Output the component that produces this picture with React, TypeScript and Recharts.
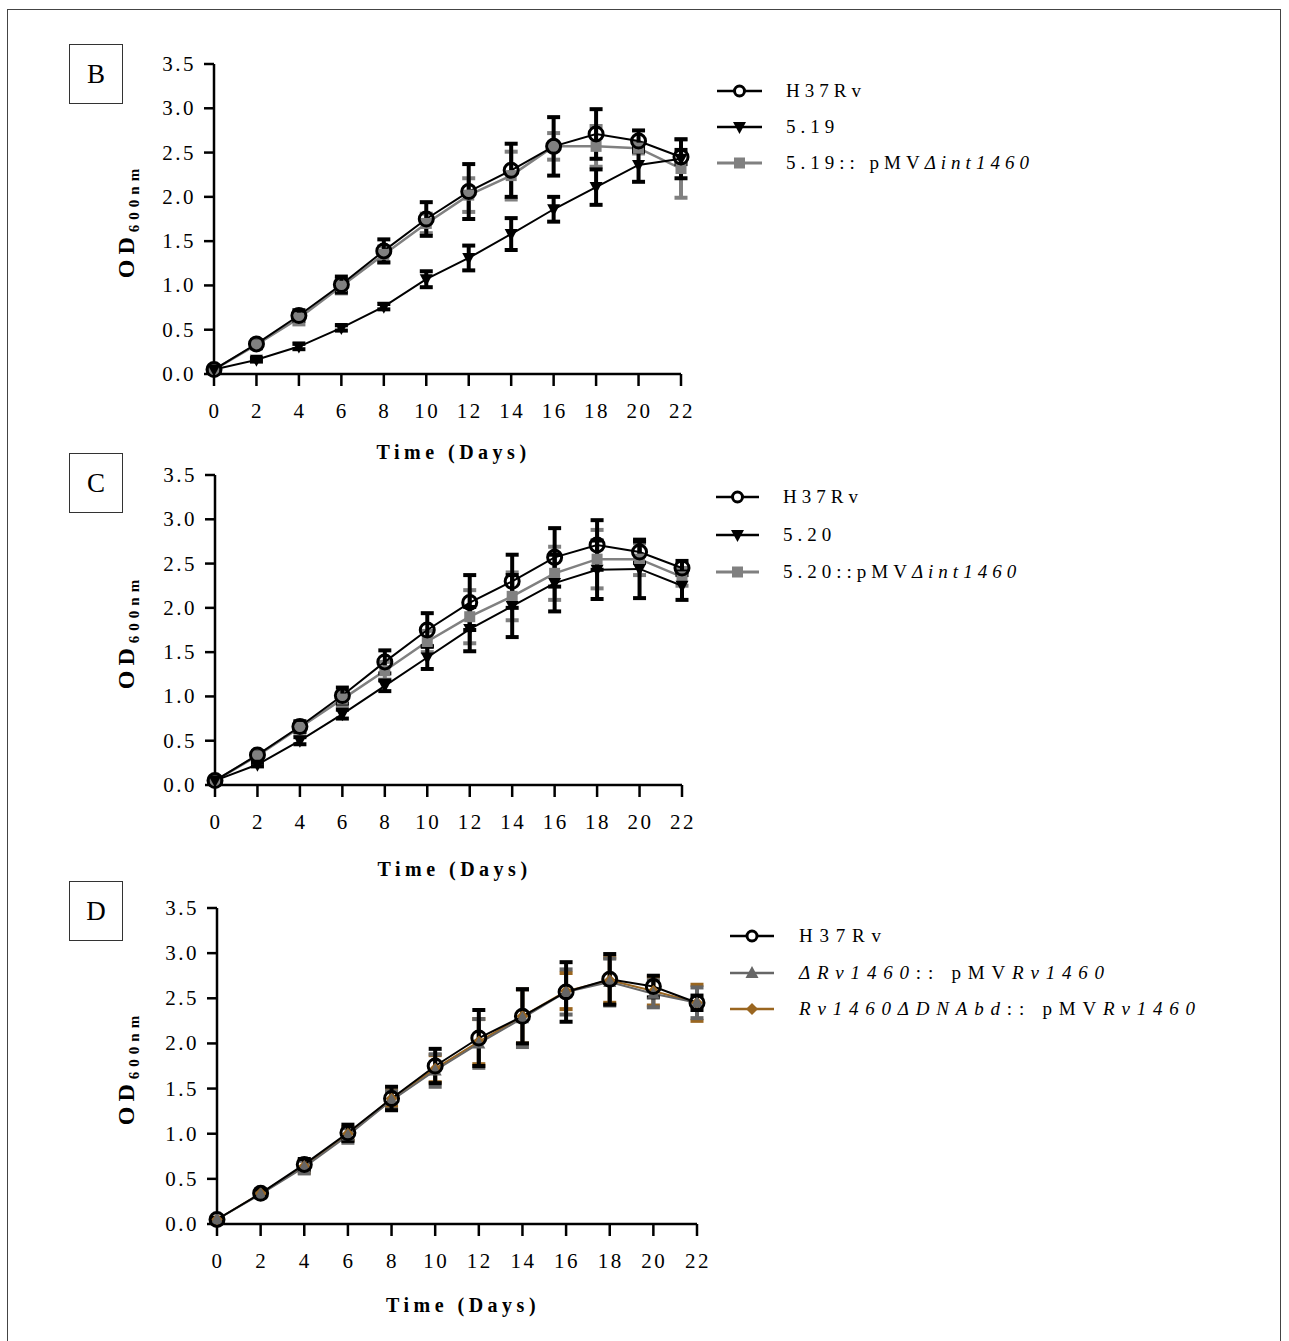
import React from "react";
import { LineChart, Line, XAxis, YAxis, ErrorBar } from "recharts";

const days = [0, 2, 4, 6, 8, 10, 12, 14, 16, 18, 20, 22];
const yTicks = [0, 0.5, 1, 1.5, 2, 2.5, 3, 3.5];

// H37Rv is the same reference strain in every panel
const h37 = [0.05, 0.34, 0.66, 1.01, 1.39, 1.75, 2.06, 2.3, 2.57, 2.71, 2.63, 2.45];
const h37Err = [0.02, 0.04, 0.06, 0.09, 0.13, 0.19, 0.31, 0.3, 0.33, 0.28, 0.12, 0.08];

// panel B
const s519 = [0.05, 0.16, 0.31, 0.52, 0.76, 1.07, 1.31, 1.58, 1.86, 2.11, 2.36, 2.43];
const s519Err = [0.01, 0.02, 0.03, 0.03, 0.03, 0.09, 0.14, 0.18, 0.14, 0.2, 0.19, 0.22];
const c519 = [0.05, 0.33, 0.63, 0.99, 1.35, 1.7, 2.02, 2.24, 2.57, 2.57, 2.55, 2.32];
const c519Err = [0.01, 0.04, 0.07, 0.08, 0.09, 0.11, 0.19, 0.27, 0.15, 0.23, 0.06, 0.33];

// panel C
const s520 = [0.05, 0.23, 0.5, 0.8, 1.12, 1.44, 1.76, 2.02, 2.28, 2.43, 2.44, 2.25];
const s520Err = [0.01, 0.02, 0.04, 0.05, 0.06, 0.13, 0.25, 0.35, 0.32, 0.33, 0.33, 0.16];
const c520 = [0.05, 0.33, 0.65, 0.97, 1.29, 1.62, 1.9, 2.13, 2.39, 2.55, 2.55, 2.35];
const c520Err = [0.01, 0.04, 0.06, 0.08, 0.1, 0.12, 0.3, 0.27, 0.3, 0.33, 0.18, 0.1];

// panel D
const dRv = [0.05, 0.33, 0.63, 0.98, 1.37, 1.7, 2.0, 2.28, 2.57, 2.68, 2.55, 2.45];
const dRvErr = [0.01, 0.03, 0.07, 0.08, 0.1, 0.18, 0.27, 0.32, 0.25, 0.26, 0.15, 0.17];
const dna = [0.05, 0.34, 0.64, 1.0, 1.39, 1.72, 2.02, 2.3, 2.58, 2.7, 2.58, 2.45];
const dnaErr = [0.01, 0.03, 0.07, 0.07, 0.09, 0.15, 0.25, 0.3, 0.2, 0.25, 0.16, 0.2];

const serif = '"Liberation Serif", "Times New Roman", serif';
const GRAY = "#808080";
const DGRAY = "#666666";
const BROWN = "#9a6620";

type Shape = "circle" | "down" | "square" | "up" | "diamond";
type Series = {
  key: string;
  name: React.ReactNode;
  values: number[];
  errors: number[];
  color: string;
  lineWidth: number;
  shape: Shape;
};

function Marker({ cx, cy, shape, color }: { cx: number; cy: number; shape: Shape; color: string }) {
  if (shape === "circle")
    return <circle cx={cx} cy={cy} r={7} fill="none" stroke={color} strokeWidth={3} />;
  if (shape === "down")
    return <path d={`M${cx - 6.5},${cy - 5} L${cx + 6.5},${cy - 5} L${cx},${cy + 7} Z`} fill={color} />;
  if (shape === "up")
    return <path d={`M${cx - 6.5},${cy + 5} L${cx + 6.5},${cy + 5} L${cx},${cy - 7} Z`} fill={color} />;
  if (shape === "diamond")
    return <path d={`M${cx},${cy - 6} L${cx + 6},${cy} L${cx},${cy + 6} L${cx - 6},${cy} Z`} fill={color} />;
  return <rect x={cx - 5.5} y={cy - 5.5} width={11} height={11} fill={color} />;
}

const YTick = (props: any) => {
  const { x, y, payload } = props;
  return (
    <text x={x} y={y} textAnchor="end" dominantBaseline="central" fontFamily={serif} fontSize={21} letterSpacing={2.5} fill="#000">
      {Number(payload.value).toFixed(1)}
    </text>
  );
};

const XTick = (props: any) => {
  const { x, y, payload } = props;
  return (
    <text x={x + 1} y={y} dy="0.71em" textAnchor="middle" fontFamily={serif} fontSize={21} letterSpacing={2.5} fill="#000">
      {payload.value}
    </text>
  );
};

type PanelProps = {
  letter: string;
  box: number;
  left: number;
  right: number;
  top: number;
  bottom: number;
  series: Series[];
  rows: number[];
  lineX: number;
  lineW: number;
  textX: number;
  spacing: number;
  timeY: number;
};

function Panel(p: PanelProps) {
  const chartTop = p.top - 20;
  const width = p.right + 40;
  const height = p.bottom - chartTop + 100;
  const data = days.map((d, i) => {
    const row: any = { day: d };
    p.series.forEach((s) => {
      row[s.key] = s.values[i];
      row[s.key + "Err"] = s.errors[i];
    });
    return row;
  });
  const drawOrder = [...p.series].reverse();

  return (
    <>
      <div
        style={{
          position: "absolute",
          left: 69,
          top: p.box,
          width: 52,
          height: 58,
          border: "1px solid #333",
          background: "#fff",
          display: "flex",
          alignItems: "center",
          justifyContent: "center",
          fontFamily: serif,
          fontSize: 27,
        }}
      >
        {p.letter}
      </div>

      <div style={{ position: "absolute", left: 0, top: chartTop }}>
        <LineChart width={width} height={height} data={data} margin={{ top: 20, right: 40, bottom: 40, left: 0 }}>
          <XAxis
            dataKey="day"
            type="number"
            domain={[0, 22]}
            ticks={days}
            height={60}
            axisLine={{ stroke: "#000", strokeWidth: 2.5 }}
            tickLine={{ stroke: "#000", strokeWidth: 2.5 }}
            tickSize={12}
            tickMargin={17}
            tick={<XTick />}
            interval={0}
          />
          <YAxis
            type="number"
            domain={[0, 3.5]}
            ticks={yTicks}
            width={p.left}
            axisLine={{ stroke: "#000", strokeWidth: 2.5 }}
            tickLine={{ stroke: "#000", strokeWidth: 2.5 }}
            tickSize={10}
            tickMargin={8}
            tick={<YTick />}
            interval={0}
          />
          {drawOrder.map((s) => (
            <Line
              key={s.key}
              dataKey={s.key}
              stroke={s.color}
              strokeWidth={s.lineWidth}
              isAnimationActive={false}
              activeDot={false}
              dot={(d: any) => <Marker key={`${s.key}-${d.index}`} cx={d.cx} cy={d.cy} shape={s.shape} color={s.color} />}
            >
              <ErrorBar
                dataKey={s.key + "Err"}
                direction="y"
                width={6.5}
                stroke={s.color}
                strokeWidth={4}
                isAnimationActive={false}
              />
            </Line>
          ))}
        </LineChart>
      </div>

      {/* legend */}
      {p.series.map((s, i) => (
        <div key={s.key} style={{ position: "absolute", left: p.lineX, top: p.rows[i] - 11, height: 22, display: "flex", alignItems: "center" }}>
          <svg width={p.lineW} height={22} style={{ display: "block" }}>
            <line x1={0} x2={p.lineW} y1={11} y2={11} stroke={s.color} strokeWidth={s.lineWidth + 0.5} />
            {s.shape === "circle" ? (
              <circle cx={p.lineW / 2} cy={11} r={5} fill="#fff" stroke={s.color} strokeWidth={3} />
            ) : (
              <Marker cx={p.lineW / 2} cy={11} shape={s.shape} color={s.color} />
            )}
          </svg>
          <span
            style={{
              position: "absolute",
              left: p.textX - p.lineX,
              whiteSpace: "nowrap",
              fontFamily: serif,
              fontSize: 19,
              letterSpacing: p.spacing,
              color: "#000",
              lineHeight: "22px",
            }}
          >
            {s.name}
          </span>
        </div>
      ))}

      {/* y title */}
      <div
        style={{
          position: "absolute",
          left: 130,
          top: (p.top + p.bottom) / 2 + 2,
          transform: "translate(-50%, -50%) rotate(-90deg)",
          whiteSpace: "nowrap",
          fontFamily: serif,
          fontWeight: "bold",
          letterSpacing: 5,
          lineHeight: "26px",
        }}
      >
        <span style={{ fontSize: 24 }}>OD</span>
        <sub style={{ fontSize: 15 }}>600nm</sub>
      </div>

      {/* x title */}
      <div
        style={{
          position: "absolute",
          left: (p.left + p.right) / 2 + 6,
          top: p.timeY,
          transform: "translate(-50%, -50%)",
          whiteSpace: "nowrap",
          fontFamily: serif,
          fontWeight: "bold",
          fontSize: 20,
          letterSpacing: 4.5,
        }}
      >
        Time (Days)
      </div>
    </>
  );
}

const h37Series = (): Series => ({
  key: "h37",
  name: "H37Rv",
  values: h37,
  errors: h37Err,
  color: "#000",
  lineWidth: 2,
  shape: "circle",
});

const seriesB: Series[] = [
  h37Series(),
  { key: "s519", name: "5.19", values: s519, errors: s519Err, color: "#000", lineWidth: 2, shape: "down" },
  {
    key: "c519",
    name: (
      <>
        5.19:: pMV<i>Δint1460</i>
      </>
    ),
    values: c519,
    errors: c519Err,
    color: GRAY,
    lineWidth: 2.5,
    shape: "square",
  },
];

const seriesC: Series[] = [
  h37Series(),
  { key: "s520", name: "5.20", values: s520, errors: s520Err, color: "#000", lineWidth: 2, shape: "down" },
  {
    key: "c520",
    name: (
      <>
        5.20::pMV<i>Δint1460</i>
      </>
    ),
    values: c520,
    errors: c520Err,
    color: GRAY,
    lineWidth: 2.5,
    shape: "square",
  },
];

const seriesD: Series[] = [
  h37Series(),
  {
    key: "dRv",
    name: (
      <>
        <i>ΔRv1460</i>:: pMV<i>Rv1460</i>
      </>
    ),
    values: dRv,
    errors: dRvErr,
    color: DGRAY,
    lineWidth: 2,
    shape: "up",
  },
  {
    key: "dna",
    name: (
      <>
        <i>Rv1460ΔDNAbd</i>:: pMV<i>Rv1460</i>
      </>
    ),
    values: dna,
    errors: dnaErr,
    color: BROWN,
    lineWidth: 2,
    shape: "diamond",
  },
];

export default function App() {
  return (
    <div style={{ position: "absolute", left: 0, top: 0, width: 1289, height: 1341, background: "#fff", overflow: "hidden" }}>
      <style>{`body{margin:0;overflow:hidden;}`}</style>
      <div
        style={{
          position: "absolute",
          left: 7,
          top: 9,
          width: 1274,
          height: 1340,
          border: "1.5px solid #444",
          borderBottom: "none",
          boxSizing: "border-box",
        }}
      />
      <Panel letter="B" box={44} left={214} right={681} top={64} bottom={374} series={seriesB} rows={[91, 127, 163]} lineX={717} lineW={45} textX={786} spacing={5} timeY={452} />
      <Panel letter="C" box={453} left={215} right={682} top={475} bottom={785} series={seriesC} rows={[497, 535, 572]} lineX={716} lineW={43} textX={783} spacing={5} timeY={869} />
      <Panel letter="D" box={881} left={217} right={697} top={908} bottom={1224} series={seriesD} rows={[936, 973, 1009]} lineX={730} lineW={44} textX={799} spacing={6.8} timeY={1305} />
    </div>
  );
}
